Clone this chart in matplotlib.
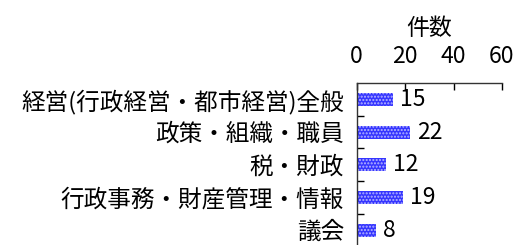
import numpy as np
import matplotlib
matplotlib.use("Agg")
import matplotlib.pyplot as plt

plt.rcParams['font.family'] = ['Noto Sans CJK JP', 'DejaVu Sans']
plt.rcParams['hatch.linewidth'] = 1.0

categories = ['経営(行政経営・都市経営)全般', '政策・組織・職員', '税・財政',
              '行政事務・財産管理・情報', '議会']
counts = [15, 22, 12, 19, 8]
xticks = [0, 20, 40, 60]

fig = plt.figure(figsize=(5.22, 2.45), dpi=100)
ax = fig.add_axes([356.5/522, 1 - 246.5/245, (502 - 356.5)/522, 163.5/245])

y = np.arange(len(categories))
bars = ax.barh(y, counts, height=0.4, color='#3535ff', edgecolor='#b8b8ff',
               hatch='.....', linewidth=0)

for yi, v in zip(y, counts):
    ax.annotate(str(v), (v, yi), xytext=(5, 0), textcoords='offset points',
                va='center', ha='left', fontsize=16.5)

ax.set_xlim(0, 60)
ax.set_ylim(len(categories) - 0.5, -0.5)
ax.xaxis.tick_top()
ax.xaxis.set_label_position('top')
ax.set_xticks(xticks)
ax.set_xticklabels([str(t) for t in xticks], fontsize=16.5)
ax.tick_params(axis='x', direction='in', length=5, width=1, pad=11)
ax.set_xlabel('件数', fontsize=16.5, labelpad=7)

# category boundaries as ticks, labels on centres
ax.set_yticks(np.arange(len(categories)) + 0.5)
ax.set_yticklabels([])
ax.set_yticks(y, minor=True)
ax.set_yticklabels(categories, minor=True, fontsize=17)
ax.tick_params(axis='y', which='major', direction='in', length=5, width=1)
ax.tick_params(axis='y', which='minor', length=0, pad=9)

ax.spines['right'].set_visible(False)
ax.spines['bottom'].set_visible(False)
for s in ['top', 'left']:
    ax.spines[s].set_linewidth(1)
    ax.spines[s].set_color('#333333')

fig.savefig('out.png', dpi=100)
